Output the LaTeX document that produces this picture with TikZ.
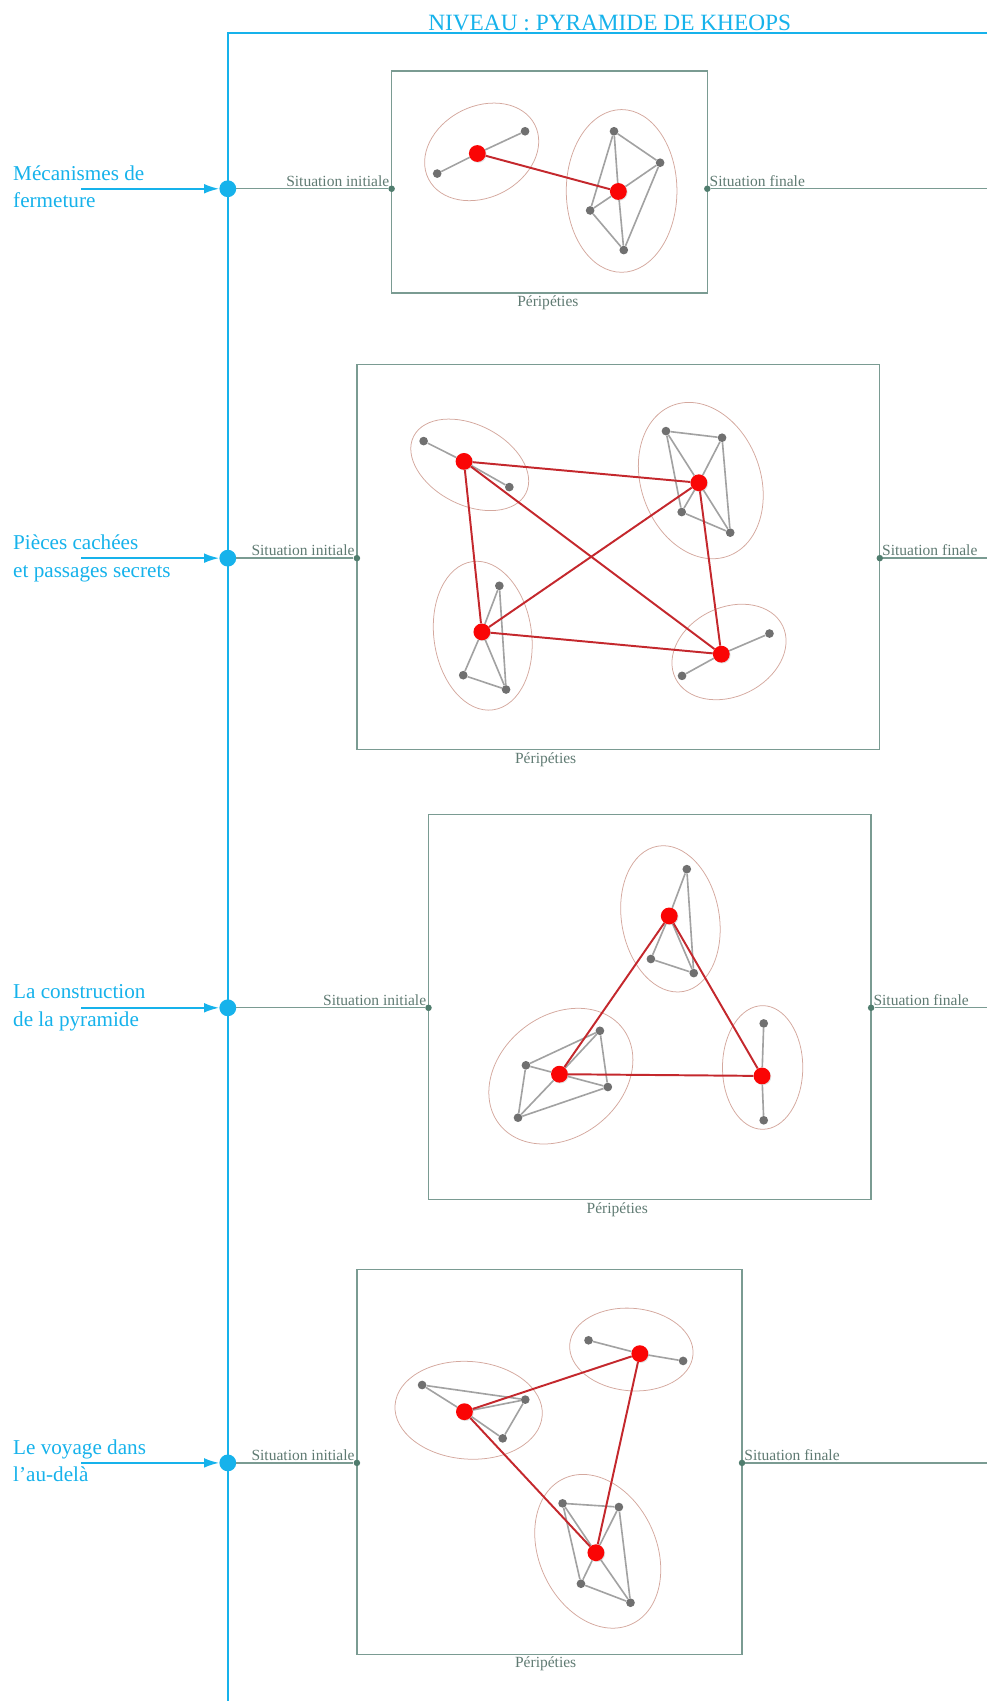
\documentclass[tikz,border=0pt]{standalone}
\usepackage{fontspec}
\setmainfont{Liberation Serif}
\usetikzlibrary{arrows.meta,shadows}
\definecolor{kblue}{RGB}{22,178,235}
\definecolor{sgreen}{RGB}{122,155,146}
\definecolor{sdot}{RGB}{80,125,110}
\definecolor{stext}{RGB}{95,122,114}
\definecolor{rnodec}{RGB}{250,5,5}
\definecolor{redgec}{RGB}{196,40,45}
\definecolor{gnodec}{RGB}{112,112,112}
\definecolor{gedgec}{RGB}{162,162,162}
\definecolor{ellc}{RGB}{212,168,158}
\begin{document}
\begin{tikzpicture}[x=1pt,y=-1pt,
    rnode/.style={circle,fill=rnodec,inner sep=0pt,minimum size=15.5pt,
      drop shadow={opacity=0.25,shadow xshift=0.8pt,shadow yshift=-0.8pt}},
    gnode/.style={circle,fill=gnodec,inner sep=0pt,minimum size=8pt},
    redge/.style={draw=redgec,line width=1.8pt},
    gedge/.style={draw=gedgec,line width=1.5pt},
    grp/.style={draw=ellc,line width=0.7pt},
    hub/.style={circle,fill=kblue,inner sep=0pt,minimum size=15.5pt},
    sdotn/.style={circle,fill=sdot,inner sep=0pt,minimum size=6pt},
    frame/.style={draw=sgreen,line width=1.2pt},
    stxt/.style={text=stext,inner sep=0pt,font=\fontsize{14.3}{16}\selectfont},
    lbl/.style={text=kblue,inner sep=0pt,align=left,anchor=north west,
      font=\fontsize{19.5}{25}\selectfont}]
  \useasboundingbox (0,0) rectangle (910,1568);
  \coordinate (tr) at (910,30);
  \coordinate (tl) at (210,30);
  \coordinate (bl) at (210,1568);
  \draw[kblue,line width=1.8pt] (tr) -- (tl) -- (bl);
  \node[text=kblue,inner sep=0pt,anchor=base,font=\fontsize{21.5}{24}\selectfont]
    (title) at (562,28) {NIVEAU : PYRAMIDE DE KHEOPS};

  \draw[frame] (361,65.5) rectangle (652,270);
  \draw[frame] (329,336) rectangle (811,691);
  \draw[frame] (395,751) rectangle (803,1106);
  \draw[frame] (329,1170) rectangle (684,1525);
  \node[stxt,anchor=base] (per1) at (505,282.5) {Péripéties};
  \node[stxt,anchor=base] (per2) at (503,703.5) {Péripéties};
  \node[stxt,anchor=base] (per3) at (569,1118.5) {Péripéties};
  \node[stxt,anchor=base] (per4) at (503,1537.5) {Péripéties};

  \foreach \i/\y/\bl/\br/\txt in {1/174/361/652/{Mécanismes de\\fermeture},
      2/514.5/329/811/{Pièces cachées\\et passages secrets},
      3/929/395/803/{La construction\\de la pyramide},
      4/1348.5/329/684/{Le voyage dans\\l’au-delà}} {
    \node[hub] (hub\i) at (210,\y) {};
    \coordinate (src\i) at (75,\y);
    \draw[kblue,line width=1.8pt,-{Latex[length=14pt,width=9pt]}] (src\i) -- (hub\i);
    \node[lbl] (lab\i) at (12,\y-21.3) {\txt};
    \node[sdotn] (in\i) at (\bl,\y) {};
    \node[sdotn] (out\i) at (\br,\y) {};
    \coordinate (end\i) at (910,\y);
    \draw[frame] (hub\i) -- (in\i);
    \draw[frame] (out\i) -- (end\i);
    \node[stxt,anchor=base east] (si\i) at (\bl-2,\y-2.5) {Situation initiale};
    \node[stxt,anchor=base west] (sf\i) at (\br+2,\y-2.5) {Situation finale};
  }

  \foreach \x/\y/\a/\b/\r in {444/140/55/42/27, 573/176/51/75/0,
      433/428.5/58/37/-27, 646/443/55/74/20, 445/586/45/69/8, 672/601/55/41/26,
      618/847/45/68/10, 517/992/72/56/38, 703/984/37/57/0,
      432/1300/68/45/-4, 582/1244/57/38/-5, 551/1430/54/74/25}
    \draw[grp] (\x,\y) ellipse [x radius=\a pt, y radius=\b pt, rotate=\r];

  \foreach \n/\x/\y in {c1a1/484/121, c1a2/403/160,
      c1b1/566/121, c1b2/608.5/150, c1b3/544/194, c1b4/575/230.5,
      c2a1/390.5/406.6, c2a2/469.5/449,
      c2b1/613.9/397.4, c2b2/665.6/403.5, c2b3/628.4/472, c2b4/673.1/491,
      c2c1/460.3/540, c2c2/427/622.4, c2c3/466.5/635.6,
      c2d1/709.3/584, c2d2/628.7/623,
      c3t1/633.1/801.2, c3t2/600/884, c3t3/639.5/897,
      c3l1/553/950.2, c3l2/484.8/982, c3l3/560.3/1002, c3l4/477.5/1030.3,
      c3r1/704/943.4, c3r2/704/1032.7,
      c4p1/389.1/1276.7, c4p2/484.2/1290.2, c4p3/463.4/1325.9,
      c4q1/542.5/1235.5, c4q2/629.7/1254.5,
      c4s1/518.6/1385.8, c4s2/570.5/1389.2, c4s3/535.5/1459.9, c4s4/581.2/1477.4}
    \node[gnode] (\n) at (\x,\y) {};

  \foreach \n/\x/\y in {c1a/440/141.5, c1b/570/176.5,
      c2a/427.7/425.3, c2b/644.2/445, c2c/444.2/582.5, c2d/664.9/603,
      c3t/616.9/844.3, c3l/515.7/990.2, c3r/702.4/991.8,
      c4p/428.1/1301.3, c4q/589.8/1247.8, c4s/549.3/1431.3}
    \node[rnode] (\n) at (\x,\y) {};

  \foreach \u/\v in {c1a/c1a1, c1a/c1a2,
      c1b1/c1b2, c1b1/c1b3, c1b1/c1b, c1b/c1b2, c1b/c1b3, c1b/c1b4, c1b2/c1b4, c1b3/c1b4,
      c2a/c2a1, c2a/c2a2,
      c2b1/c2b2, c2b1/c2b, c2b2/c2b, c2b1/c2b3, c2b/c2b3, c2b2/c2b4, c2b/c2b4, c2b3/c2b4,
      c2c/c2c1, c2c1/c2c3, c2c/c2c2, c2c/c2c3, c2c2/c2c3,
      c2d/c2d1, c2d/c2d2,
      c3t/c3t1, c3t1/c3t3, c3t/c3t2, c3t/c3t3, c3t2/c3t3,
      c3l2/c3l1, c3l/c3l1, c3l1/c3l3, c3l/c3l2, c3l2/c3l4, c3l/c3l3, c3l/c3l4, c3l4/c3l3,
      c3r/c3r1, c3r/c3r2,
      c4p1/c4p, c4p1/c4p2, c4p/c4p2, c4p2/c4p3, c4p/c4p3,
      c4q1/c4q, c4q/c4q2,
      c4s1/c4s2, c4s1/c4s, c4s2/c4s, c4s1/c4s3, c4s2/c4s4, c4s/c4s3, c4s/c4s4, c4s3/c4s4}
    \draw[gedge] (\u) -- (\v);

  \foreach \u/\v in {c1a/c1b,
      c2a/c2b, c2a/c2c, c2a/c2d, c2b/c2c, c2b/c2d, c2c/c2d,
      c3t/c3l, c3t/c3r, c3l/c3r,
      c4p/c4q, c4p/c4s, c4q/c4s}
    \draw[redge] (\u) -- (\v);
\end{tikzpicture}
\end{document}
